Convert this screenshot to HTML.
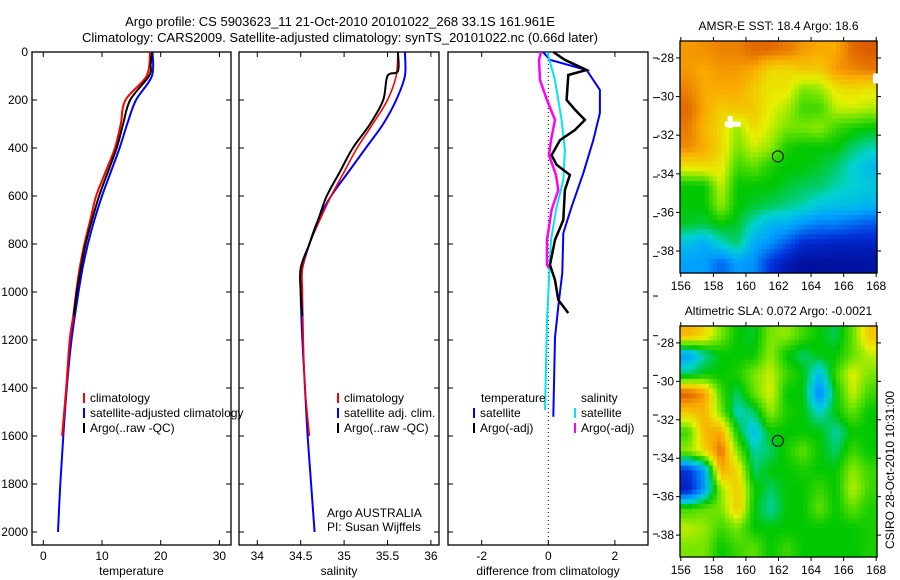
<!DOCTYPE html>
<html><head><meta charset="utf-8"><style>
body{margin:0;background:#fff;}
svg{display:block;font-family:"Liberation Sans",sans-serif;}
</style></head><body>
<svg id="c" width="900" height="580" xmlns="http://www.w3.org/2000/svg">
<text x="340" y="26" text-anchor="middle" font-size="13">Argo profile: CS 5903623_11 21-Oct-2010 20101022_268 33.1S 161.961E</text>
<text x="340" y="42" text-anchor="middle" font-size="13">Climatology: CARS2009. Satellite-adjusted climatology: synTS_20101022.nc (0.66d later)</text>
</svg>
<script>
// ---------- data ----------
const tClimDepth=[0,100,200,300,400,500,600,700,800,900,1000,1100,1200,1400,1600];
const tClimVal=[18.2,17.6,14.0,13.2,12.2,10.6,9.0,8.0,7.0,6.2,5.6,5.1,4.5,3.9,3.2];
const tSatDepth=[0,100,200,300,400,500,600,700,800,900,1000,1200,1400,1600,1800,2000];
const tSatVal=[18.6,18.5,15.8,14.3,13.0,11.5,10.0,8.7,7.6,6.7,6.0,4.8,4.0,3.4,2.9,2.5];
const tArgoDepth=[0,50,100,200,300,400,500,600,700,800,900,1000,1100];
const tArgoVal=[18.5,18.3,18.0,14.8,13.6,12.5,11.0,9.5,8.3,7.2,6.4,5.7,5.2];
const sClimDepth=[0,100,200,300,400,500,600,700,800,900,1000,1200,1400,1600];
const sClimVal=[35.62,35.6,35.5,35.33,35.15,35.0,34.85,34.72,34.6,34.52,34.52,34.53,34.55,34.6];
const sSatDepth=[0,100,200,300,400,500,600,700,800,900,1000,1200,1400,1600,1800,2000];
const sSatVal=[35.7,35.7,35.6,35.45,35.25,35.05,34.85,34.7,34.6,34.52,34.5,34.52,34.55,34.58,34.62,34.66];
const sArgoDepth=[0,80,100,200,300,400,500,600,700,800,900,1000,1100];
const sArgoVal=[35.62,35.62,35.5,35.45,35.3,35.1,34.95,34.8,34.7,34.6,34.5,34.5,34.52];
const dTSatDepth=[0,33,75,158,254,367,505,645,755,920,1060,1190,1520];
const dTSatVal=[-0.16,0.05,1.15,1.55,1.55,1.35,1.05,0.7,0.45,0.42,0.3,0.2,0.15];
const dTArgoDepth=[0,33,75,96,200,240,283,325,367,430,470,512,575,700,783,887,950,1033,1088];
const dTArgoVal=[0.15,0.5,1.15,0.6,0.55,0.8,1.1,0.8,0.35,0.1,0.25,0.65,0.5,0.45,0.2,0.05,0.2,0.3,0.6];
const dSSatDepth=[0,117,283,408,533,658,783,950,1117,1492];
const dSSatVal=[-0.03,0.2,0.4,0.5,0.45,0.23,0.08,0.02,-0.04,-0.1];
const dSArgoDepth=[0,33,117,200,283,367,430,512,575,658,783,887,900];
const dSArgoVal=[-0.22,-0.28,-0.25,-0.04,0.2,0.08,0.02,0.23,0.3,0.1,-0.04,-0.04,0.02];
const depthTicks=[0,200,400,600,800,1000,1200,1400,1600,1800,2000];
const tempTicks=[0,10,20,30];
const salTicks=[34,34.5,35,35.5,36];
const salTickLabels=["34","34.5","35","35.5","36"];
const diffTicks=[-2,0,2];
const lonTicks=[156,158,160,162,164,166,168];
const latTicks=[-28,-30,-32,-34,-36,-38];
const sstGrid=[
[0.82,0.83,0.85,0.85,0.88,0.88,0.86,0.82,0.8,0.8,0.88,0.9],
[0.82,0.8,0.82,0.82,0.8,0.72,0.72,0.75,0.74,0.82,0.84,0.86],
[0.85,0.8,0.8,0.8,0.74,0.7,0.7,0.6,0.62,0.7,0.72,0.7],
[0.88,0.8,0.74,0.76,0.75,0.68,0.64,0.55,0.55,0.65,0.66,0.64],
[0.86,0.78,0.72,0.62,0.72,0.66,0.6,0.6,0.62,0.55,0.52,0.5],
[0.84,0.8,0.72,0.6,0.66,0.62,0.52,0.5,0.5,0.5,0.45,0.42],
[0.7,0.72,0.7,0.55,0.58,0.52,0.5,0.5,0.48,0.45,0.4,0.35],
[0.5,0.5,0.66,0.5,0.5,0.5,0.48,0.46,0.45,0.42,0.4,0.38],
[0.5,0.5,0.62,0.5,0.48,0.46,0.44,0.42,0.38,0.36,0.36,0.34],
[0.48,0.47,0.5,0.48,0.4,0.34,0.33,0.28,0.25,0.25,0.22,0.2],
[0.36,0.32,0.4,0.45,0.32,0.28,0.2,0.12,0.12,0.1,0.1,0.1],
[0.3,0.3,0.22,0.3,0.28,0.15,0.08,0.05,0.05,0.05,0.05,0.06]];
const slaGrid=[
[0.78,0.72,0.6,0.5,0.48,0.6,0.62,0.55,0.5,0.46,0.58,0.75],
[0.3,0.42,0.5,0.5,0.5,0.62,0.5,0.45,0.5,0.5,0.58,0.65],
[0.45,0.5,0.5,0.52,0.6,0.66,0.55,0.5,0.35,0.55,0.68,0.6],
[0.9,0.82,0.55,0.45,0.58,0.68,0.5,0.5,0.25,0.5,0.66,0.55],
[0.75,0.78,0.6,0.4,0.45,0.62,0.52,0.5,0.4,0.5,0.58,0.5],
[0.55,0.78,0.8,0.5,0.35,0.5,0.5,0.5,0.5,0.42,0.5,0.5],
[0.62,0.72,0.88,0.6,0.42,0.45,0.52,0.58,0.5,0.45,0.55,0.5],
[0.15,0.3,0.8,0.72,0.45,0.5,0.5,0.52,0.5,0.5,0.62,0.55],
[0.1,0.3,0.62,0.75,0.52,0.45,0.5,0.5,0.55,0.5,0.65,0.55],
[0.55,0.58,0.6,0.75,0.5,0.42,0.5,0.5,0.58,0.5,0.58,0.52],
[0.65,0.62,0.55,0.6,0.5,0.5,0.5,0.5,0.5,0.5,0.5,0.52],
[0.6,0.6,0.5,0.55,0.58,0.5,0.55,0.5,0.5,0.5,0.5,0.52]];
const floatLon=161.961, floatLat=-33.1;

// ---------- helpers ----------
const svg=document.getElementById('c');
const NS='http://www.w3.org/2000/svg';
function mk(tag,attrs,parent){const e=document.createElementNS(NS,tag);for(const k in attrs)e.setAttribute(k,attrs[k]);(parent||svg).appendChild(e);return e;}
const yD=d=>52+d*0.24;

function panel(name,x0,x1,xs,ticks,labels,xtitle,showDepthLabels){
  const g=mk('g',{});
  
  
  const fr=mk('rect',{x:x0,y:52,width:x1-x0,height:493,fill:'none',stroke:'#000','stroke-width':1.3},g);
  
  
  depthTicks.forEach(d=>{
    const y=yD(d);
    mk('line',{x1:x0,x2:x0+5,y1:y,y2:y,stroke:'#000'},g);
    mk('line',{x1:x1-5,x2:x1,y1:y,y2:y,stroke:'#000'},g);
    if(showDepthLabels){const t=mk('text',{x:x0-4,y:y+4,'text-anchor':'end','font-size':12},g);t.textContent=d;
      
      }
  });
  ticks.forEach((v,i)=>{
    const x=xs(v);
    mk('line',{x1:x,x2:x,y1:545,y2:540,stroke:'#000'},g);
    mk('line',{x1:x,x2:x,y1:52,y2:57,stroke:'#000'},g);
    const t=mk('text',{x:x,y:560,'text-anchor':'middle','font-size':12},g);t.textContent=labels[i];
    
    
  });
  const tt=mk('text',{x:(x0+x1)/2,y:575,'text-anchor':'middle','font-size':12},g);tt.textContent=xtitle;
  
  
  return g;
}
function line(g,xs,depth,vals,color,w,name,smooth){
  const P=depth.map((d,i)=>[xs(vals[i]),yD(d)]);
  let dstr='M'+P[0][0].toFixed(1)+','+P[0][1].toFixed(1);
  for(let i=0;i<P.length-1;i++){
    if(smooth){
      const p0=P[Math.max(0,i-1)],p1=P[i],p2=P[i+1],p3=P[Math.min(P.length-1,i+2)];
      const c1=[p1[0]+(p2[0]-p0[0])/6,p1[1]+(p2[1]-p0[1])/6];
      const c2=[p2[0]-(p3[0]-p1[0])/6,p2[1]-(p3[1]-p1[1])/6];
      dstr+=' C'+c1.map(v=>v.toFixed(1)).join(',')+' '+c2.map(v=>v.toFixed(1)).join(',')+' '+p2.map(v=>v.toFixed(1)).join(',');
    } else dstr+=' L'+P[i+1][0].toFixed(1)+','+P[i+1][1].toFixed(1);
  }
  const e=mk('path',{d:dstr,fill:'none',stroke:color,'stroke-width':w},g);
  
  
}
function legend(g,x,y,color,label,name){
  mk('line',{x1:x,x2:x,y1:y-9,y2:y+1,stroke:color,'stroke-width':2},g);
  const t=mk('text',{x:x+6,y:y,'font-size':12},g);t.textContent=label;
  
  
}

// temperature panel
const xT=v=>43.3+v*5.87;
const g1=panel('temperature-panel',32,231,xT,tempTicks,tempTicks.map(String),'temperature',true);
line(g1,xT,tSatDepth,tSatVal,'#0000ff',2,'temp-satellite-line',true);
line(g1,xT,tClimDepth,tClimVal,'#ff0000',2,'temp-climatology-line',true);
line(g1,xT,tArgoDepth,tArgoVal,'#000',2,'temp-argo-line',true);
legend(g1,84,402,'#ff0000','climatology','legend-climatology');
legend(g1,84,417,'#0000ff','satellite-adjusted climatology','legend-satellite');
legend(g1,84,432,'#000','Argo(..raw -QC)','legend-argo');

// salinity panel
const xS=v=>257.3+(v-34)*86.8;
const g2=panel('salinity-panel',239,439,xS,salTicks,salTickLabels,'salinity',false);
line(g2,xS,sSatDepth,sSatVal,'#0000ff',2,'sal-satellite-line',true);
line(g2,xS,sClimDepth,sClimVal,'#ff0000',1.6,'sal-climatology-line',true);
line(g2,xS,sArgoDepth,sArgoVal,'#000',2,'sal-argo-line',true);
legend(g2,338,402,'#ff0000','climatology','legend-sal-climatology');
legend(g2,338,417,'#0000ff','satellite adj. clim.','legend-sal-satellite');
legend(g2,338,432,'#000','Argo(..raw -QC)','legend-sal-argo');
const a1=mk('text',{x:327,y:517,'font-size':12},g2);a1.textContent='Argo AUSTRALIA';


const a2=mk('text',{x:327,y:531,'font-size':12},g2);a2.textContent='PI: Susan Wijffels';



// difference panel
const xDf=v=>548.3+v*33.3;
const g3=panel('difference-panel',448,648,xDf,diffTicks,diffTicks.map(String),'difference from climatology',false);
const zl=mk('line',{x1:xDf(0),x2:xDf(0),y1:52,y2:545,stroke:'#000','stroke-dasharray':'1,3'},g3);


line(g3,xDf,dTSatDepth,dTSatVal,'#0000ff',2,'diff-temp-satellite',false);
line(g3,xDf,dSSatDepth,dSSatVal,'#00e5ee',2,'diff-sal-satellite',false);
line(g3,xDf,dSArgoDepth,dSArgoVal,'#ff00ff',2.5,'diff-sal-argo',false);
line(g3,xDf,dTArgoDepth,dTArgoVal,'#000',2.5,'diff-temp-argo',false);
const lt=mk('text',{x:481,y:402,'font-size':12},g3);lt.textContent='temperature';


const ls=mk('text',{x:581,y:402,'font-size':12},g3);ls.textContent='salinity';


legend(g3,474,417,'#0000ff','satellite','legend-diff-temp-sat');
legend(g3,474,432,'#000','Argo(-adj)','legend-diff-temp-argo');
legend(g3,575,417,'#00e5ee','satellite','legend-diff-sal-sat');
legend(g3,575,432,'#ff00ff','Argo(-adj)','legend-diff-sal-argo');
for(let k=0;k<13;k++){const y=58+k*39.67;mk('line',{x1:653,x2:658,y1:y,y2:y,stroke:'#000'},g3);}

// ---------- maps ----------
const stops=[[0,[0,0,128]],[0.15,[0,50,220]],[0.3,[0,160,255]],[0.4,[0,210,210]],[0.5,[0,200,0]],[0.6,[120,230,0]],[0.68,[230,240,0]],[0.8,[250,170,0]],[0.9,[220,90,0]],[1,[160,30,0]]];
function cmap(v){
  v=Math.max(0,Math.min(1,v));
  for(let i=1;i<stops.length;i++){if(v<=stops[i][0]){const a=stops[i-1],b=stops[i],f=(v-a[0])/(b[0]-a[0]);
    return 'rgb('+a[1].map((c,j)=>Math.round(c+(b[1][j]-c)*f)).join(',')+')';}}
  return 'rgb(160,30,0)';
}
function sample(grid,r,c){
  const nr=grid.length,nc=grid[0].length;
  const rr=Math.max(0,Math.min(nr-1,r-0.5)),cc=Math.max(0,Math.min(nc-1,c-0.5));
  const r0=Math.floor(rr),c0=Math.floor(cc),r1=Math.min(nr-1,r0+1),c1=Math.min(nc-1,c0+1);
  const fr=rr-r0,fc=cc-c0;
  return grid[r0][c0]*(1-fr)*(1-fc)+grid[r0][c1]*(1-fr)*fc+grid[r1][c0]*fr*(1-fc)+grid[r1][c1]*fr*fc;
}
function map(name,top,bot,grid,title,titleY){
  const L=680,R=877,lon0=155.95,lon1=168.05;
  const latTop=-27.12,latBot=-39.14;
  const xL=lo=>L+(lo-lon0)/(lon1-lon0)*(R-L);
  const yL=la=>top+(latTop-la)/(latTop-latBot)*(bot-top);
  const g=mk('g',{});
  
  
  const nr=grid.length,nc=grid[0].length,S=4;
  for(let r=0;r<nr*S;r++)for(let c=0;c<nc*S;c++){
    const v=sample(grid,(r+0.5)/S,(c+0.5)/S);
    const la0=latTop-r*(latTop-latBot)/(nr*S), la1=latTop-(r+1)*(latTop-latBot)/(nr*S);
    const lo0=lon0+c*(lon1-lon0)/(nc*S), lo1=lon0+(c+1)*(lon1-lon0)/(nc*S);
    const e=mk('rect',{x:xL(lo0).toFixed(1),y:yL(la0).toFixed(1),width:(xL(lo1)-xL(lo0)+0.6).toFixed(1),height:(yL(la1)-yL(la0)+0.6).toFixed(1),fill:cmap(v)},g);
    
    
  }
  const fr=mk('rect',{x:L,y:top,width:R-L,height:bot-top,fill:'none',stroke:'#000','stroke-width':1.3},g);
  
  
  lonTicks.forEach(lo=>{const x=xL(lo);
    mk('line',{x1:x,x2:x,y1:bot,y2:bot+4,stroke:'#000'},g);
    mk('line',{x1:x,x2:x,y1:top,y2:top-4,stroke:'#000'},g);
    const t=mk('text',{x:x,y:bot+17,'text-anchor':'middle','font-size':12},g);t.textContent=lo;
    
    });
  latTicks.forEach(la=>{const y=yL(la);
    mk('line',{x1:L-4,x2:L,y1:y,y2:y,stroke:'#000'},g);
    mk('line',{x1:R,x2:R+4,y1:y,y2:y,stroke:'#000'},g);
    const t=mk('text',{x:L-6,y:y+4,'text-anchor':'end','font-size':12},g);t.textContent=la;
    
    });
  const c=mk('circle',{cx:xL(floatLon),cy:yL(floatLat),r:5.5,fill:'none',stroke:'#000','stroke-width':1},g);
  
  
  const t=mk('text',{x:(L+R)/2,y:titleY,'text-anchor':'middle','font-size':12},g);t.textContent=title;
  
  
  return {g,xL,yL};
}
const m1=map('sst-map',41,273,sstGrid,'AMSR-E SST: 18.4  Argo: 18.6',30);
mk('rect',{x:m1.xL(158.7),y:m1.yL(-31.3),width:16,height:5,fill:'#fff'},m1.g);
mk('rect',{x:m1.xL(159)-2,y:m1.yL(-31.0),width:5,height:12,fill:'#fff'},m1.g);
mk('rect',{x:m1.xL(167.8),y:m1.yL(-28.8),width:5,height:10,fill:'#fff'},m1.g);
map('sla-map',326,557,slaGrid,'Altimetric SLA: 0.072  Argo: -0.0021',315);
const cr=mk('text',{x:894,y:470,'text-anchor':'middle','font-size':12,transform:'rotate(-90 894 470)'});
cr.textContent='CSIRO 28-Oct-2010 10:31:00';


</script>
</body></html>
